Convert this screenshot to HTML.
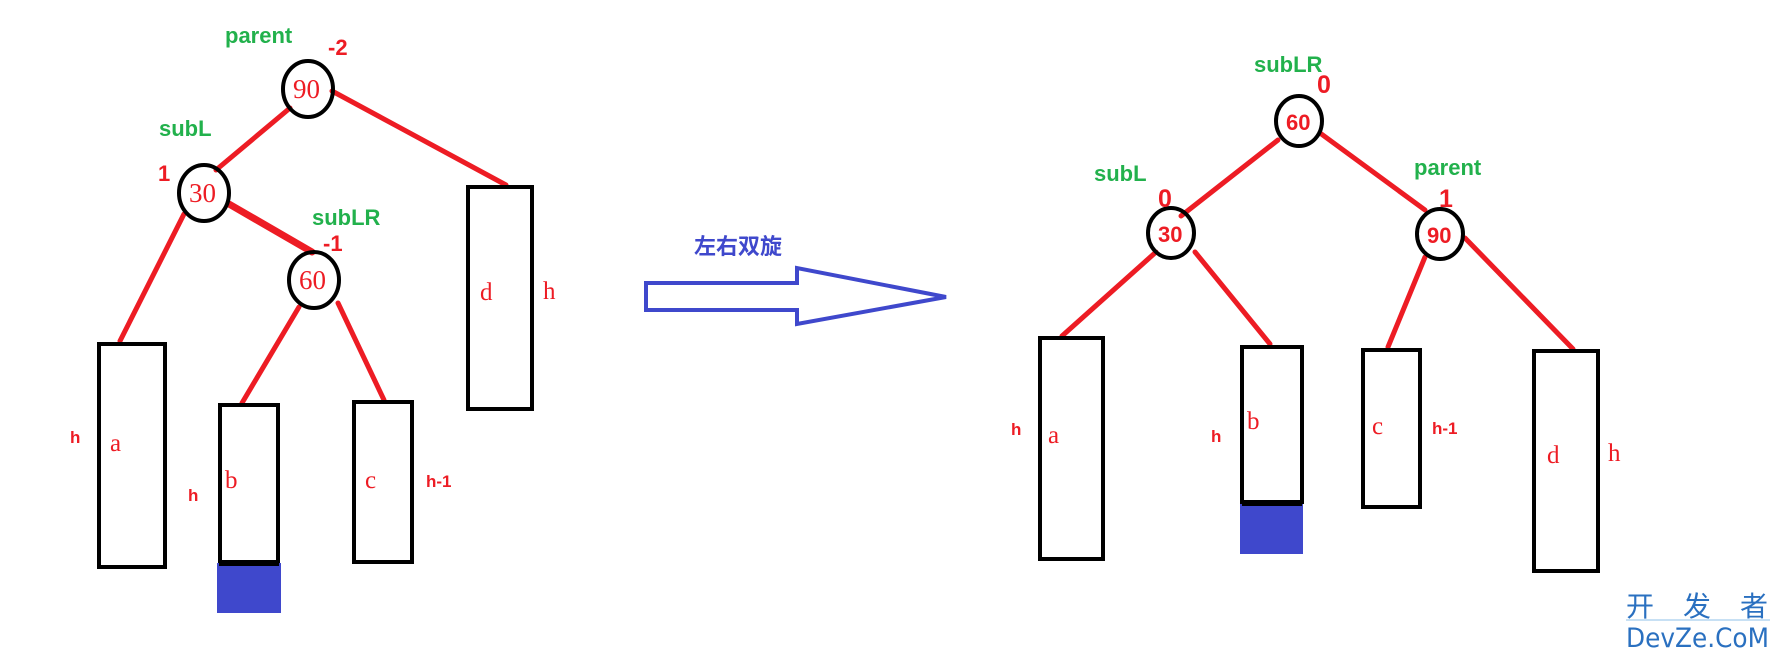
<!DOCTYPE html>
<html><head><meta charset="utf-8"><style>
html,body{margin:0;padding:0;background:#fff;}
svg{display:block;}
.g{fill:#22b14c;font-family:"Liberation Sans","DejaVu Sans",sans-serif;font-weight:bold;font-size:22px;}
.n{fill:#ed1c24;font-family:"Liberation Sans","DejaVu Sans",sans-serif;font-weight:bold;font-size:22px;}
.s{fill:#ed1c24;font-family:"Liberation Serif",serif;font-size:25px;}
.sn{fill:#ed1c24;font-family:"Liberation Serif",serif;font-size:27px;}
.hb{fill:#ed1c24;font-family:"Liberation Sans",sans-serif;font-weight:bold;font-size:17px;}
.nb{fill:#ed1c24;font-family:"Liberation Sans",sans-serif;font-weight:bold;font-size:25px;}
</style></head><body>
<svg width="1781" height="654" viewBox="0 0 1781 654" xmlns="http://www.w3.org/2000/svg">
<g stroke="#ed1c24" stroke-width="5" stroke-linecap="round">
<line x1="332" y1="91" x2="506" y2="185"/>
<line x1="290" y1="108" x2="216" y2="170"/>
<line x1="184" y1="214" x2="120" y2="341"/>
<line x1="229" y1="204" x2="312" y2="252" stroke-width="7"/>
<line x1="299" y1="307" x2="242" y2="403"/>
<line x1="338" y1="303" x2="384" y2="400"/>
<line x1="1278" y1="140" x2="1181" y2="216"/>
<line x1="1320" y1="133" x2="1425" y2="210"/>
<line x1="1156" y1="252" x2="1062" y2="336"/>
<line x1="1195" y1="252" x2="1270" y2="344"/>
<line x1="1425" y1="257" x2="1388" y2="347"/>
<line x1="1465" y1="238" x2="1573" y2="349"/>
</g>
<g fill="none" stroke="#000" stroke-width="4">
<ellipse cx="308" cy="89" rx="25" ry="28"/>
<ellipse cx="204" cy="193" rx="25" ry="28"/>
<ellipse cx="314" cy="280" rx="25" ry="28"/>
<ellipse cx="1299" cy="121" rx="23" ry="25"/>
<ellipse cx="1171" cy="233" rx="23" ry="25"/>
<ellipse cx="1440" cy="234" rx="23" ry="25"/>
<rect x="99" y="344" width="66" height="223"/>
<rect x="220" y="405" width="58" height="158"/>
<rect x="354" y="402" width="58" height="160"/>
<rect x="468" y="187" width="64" height="222"/>
<rect x="1040" y="338" width="63" height="221"/>
<rect x="1242" y="347" width="60" height="155"/>
<rect x="1363" y="350" width="57" height="157"/>
<rect x="1534" y="351" width="64" height="220"/>
</g>
<rect x="217" y="563" width="64" height="50" fill="#3f48cc"/>
<rect x="219" y="560" width="60" height="6" fill="#000"/>
<rect x="1240" y="504" width="63" height="50" fill="#3f48cc"/>
<rect x="1242" y="500" width="60" height="6" fill="#000"/>
<polygon points="646,283 797,283 797,268 946,297 797,324 797,310 646,310" fill="none" stroke="#3f48cc" stroke-width="4"/>
<text x="694" y="254" fill="#3f48cc" style="font-family:'Liberation Sans','Noto Sans CJK SC',sans-serif;font-weight:bold;font-size:22px">左右双旋</text>
<text class="g" x="225" y="43">parent</text>
<text class="n" x="328" y="55">-2</text>
<text class="sn" x="293" y="98">90</text>
<text class="g" x="159" y="136">subL</text>
<text class="n" x="158" y="181">1</text>
<text class="sn" x="189" y="202">30</text>
<text class="g" x="312" y="225">subLR</text>
<text class="n" x="323" y="251">-1</text>
<text class="sn" x="299" y="289">60</text>
<text class="hb" x="70" y="443">h</text>
<text class="s" x="110" y="451">a</text>
<text class="hb" x="188" y="501">h</text>
<text class="s" x="225" y="488">b</text>
<text class="s" x="365" y="488">c</text>
<text class="hb" x="426" y="487">h-1</text>
<text class="s" x="480" y="300">d</text>
<text class="s" x="543" y="299">h</text>
<text class="g" x="1254" y="72">subLR</text>
<text class="nb" x="1317" y="93">0</text>
<text class="n" x="1286" y="130">60</text>
<text class="g" x="1094" y="181">subL</text>
<text class="nb" x="1158" y="207">0</text>
<text class="n" x="1158" y="242">30</text>
<text class="g" x="1414" y="175">parent</text>
<text class="nb" x="1439" y="207">1</text>
<text class="n" x="1427" y="243">90</text>
<text class="hb" x="1011" y="435">h</text>
<text class="s" x="1048" y="443">a</text>
<text class="hb" x="1211" y="442">h</text>
<text class="s" x="1247" y="429">b</text>
<text class="s" x="1372" y="434">c</text>
<text class="hb" x="1432" y="434">h-1</text>
<text class="s" x="1547" y="463">d</text>
<text class="s" x="1608" y="461">h</text>
<text x="1626" y="616" fill="#2a70c0" style="font-family:'Noto Sans CJK SC',sans-serif;font-size:28px" textLength="142" lengthAdjust="spacing">开发者</text>
<line x1="1626" y1="620" x2="1770" y2="620" stroke="#8fc0e8" stroke-width="1"/>
<text x="1626" y="647" fill="#2a70c0" style="font-family:'DejaVu Sans',sans-serif;font-size:27px" textLength="143" lengthAdjust="spacingAndGlyphs">DevZe.CoM</text>
</svg>
</body></html>
